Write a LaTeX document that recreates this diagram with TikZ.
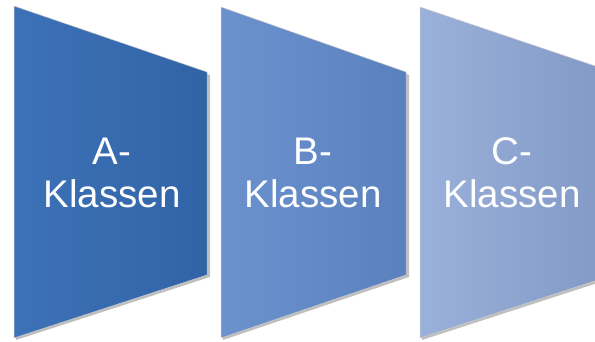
\documentclass[tikz,border=0pt]{standalone}
\usepackage{fontspec}
\setmainfont{Liberation Sans}
\usetikzlibrary{positioning}
\definecolor{aleft}{RGB}{62,114,184}
\definecolor{aright}{RGB}{48,99,166}
\definecolor{bleft}{RGB}{108,146,206}
\definecolor{bright}{RGB}{90,128,190}
\definecolor{cleft}{RGB}{154,177,219}
\definecolor{cright}{RGB}{130,152,197}
\tikzset{
  klasse/.style={draw=black!20,line width=0.5pt,shading=axis,shading angle=90},
  schatten/.style={fill=black,opacity=0.25},
  label/.style={text=white,align=center,font=\fontsize{38.5}{43}\selectfont}
}
\begin{document}
\begin{tikzpicture}[x=1pt,y=-1pt]
\useasboundingbox (0,0) rectangle (595,341);
\clip (0,0) rectangle (595,341);
\fill[white] (0,0) rectangle (595,341);
% shadows
\fill[schatten] (16,9) -- (210,75) -- (210,277) -- (16,340) -- cycle;
\fill[schatten] (223,10) -- (409,75) -- (409,277) -- (223,340) -- cycle;
\fill[schatten] (422,10) -- (616,75) -- (616,277) -- (422,340) -- cycle;
% shapes
\draw[klasse,left color=aleft,right color=aright] (14,6) coordinate(A1) -- (207,72) -- (207,275) -- (14,338) coordinate(A2) -- cycle;
\draw[klasse,left color=bleft,right color=bright] (221,7) coordinate(B1) -- (406,72) -- (406,275) -- (221,338) coordinate(B2) -- cycle;
\draw[klasse,left color=cleft,right color=cright] (420,7) coordinate(C1) -- (613,72) -- (613,275) -- (420,338) coordinate(C2) -- cycle;
% texts
\node[label] (a) at (112,173) {A-\\Klassen};
\node[label] (b) at (313,173) {B-\\Klassen};
\node[label] (c) at (512,173) {C-\\Klassen};
\end{tikzpicture}
\end{document}
